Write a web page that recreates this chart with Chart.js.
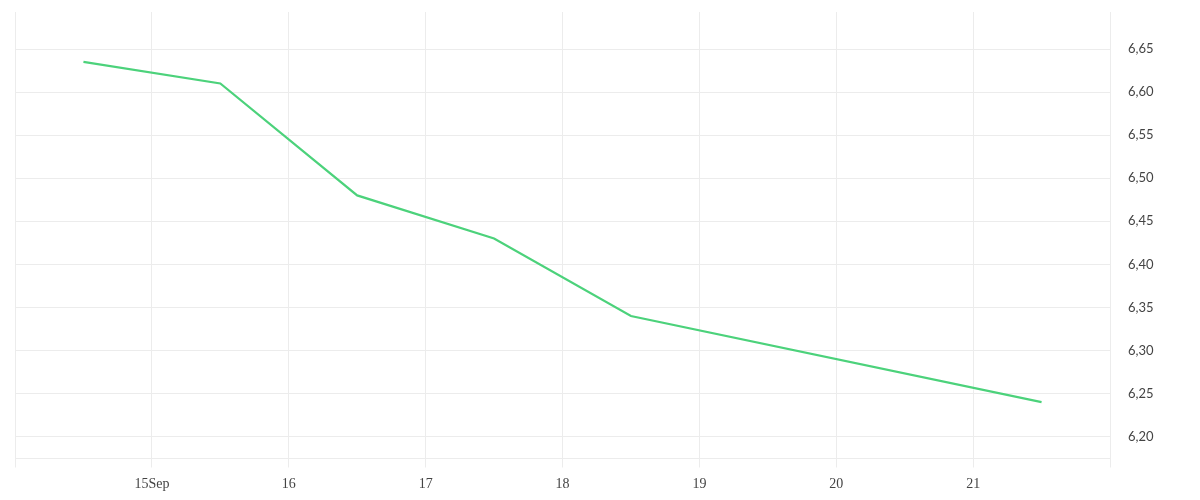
<!DOCTYPE html>
<html><head><meta charset="utf-8">
<script src="https://cdn.jsdelivr.net/npm/chart.js@4/dist/chart.umd.min.js"></script>
<style>html,body{margin:0;padding:0;background:#fff}#wrap{width:1200px;height:500px;position:relative}</style>
</head><body><div id="wrap"><canvas id="c"></canvas></div>
<script>
const days = [14.5, 15.5, 16.5, 17.5, 18.5, 21.5];
const rates = [6.635, 6.61, 6.48, 6.43, 6.34, 6.24];
const xTickValues = [14, 15, 16, 17, 18, 19, 20, 21, 22];
const xTickLabels = ['', '15Sep', '16', '17', '18', '19', '20', '21', ''];
const yTickValues = [6.20, 6.25, 6.30, 6.35, 6.40, 6.45, 6.50, 6.55, 6.60, 6.65];

const points = days.map((d, i) => ({x: d, y: rates[i]}));
const gridColor = '#ececec';

new Chart(document.getElementById('c'), {
  type: 'line',
  data: { datasets: [{
    data: points,
    borderColor: '#4cd27b',
    borderWidth: 2.2,
    pointRadius: 0,
    tension: 0,
    fill: false
  }]},
  options: {
    responsive: true,
    maintainAspectRatio: false,
    devicePixelRatio: 1,
    animation: false,
    layout: { padding: { left: 15, top: 12, right: 0, bottom: 0 } },
    plugins: { legend: { display: false }, tooltip: { enabled: false } },
    scales: {
      x: {
        type: 'linear',
        min: 14, max: 22,
        afterBuildTicks: s => { s.ticks = xTickValues.map(v => ({value: v})); },
        afterFit: s => { s.height = 41.5; s.paddingLeft = 0; s.paddingRight = 0; },
        grid: { color: gridColor, tickLength: 9, drawTicks: true },
        border: { display: true, color: gridColor },
        ticks: {
          autoSkip: false, maxRotation: 0, padding: 8,
          color: '#444',
          font: { family: 'Liberation Serif', size: 14 },
          callback: (v) => { const i = xTickValues.indexOf(v); return i >= 0 ? xTickLabels[i] : ''; }
        }
      },
      y: {
        type: 'linear',
        position: 'right',
        min: 6.1745, max: 6.693,
        afterBuildTicks: s => { s.ticks = yTickValues.map(v => ({value: v})); },
        afterFit: s => { s.width = 90; s.paddingTop = 0; s.paddingBottom = 0; },
        grid: { color: gridColor, drawTicks: false },
        border: { display: false },
        ticks: {
          padding: 18,
          color: '#444',
          font: { family: 'Lato', size: 13 },
          callback: v => v.toFixed(2).replace('.', ',')
        }
      }
    }
  }
});
</script>
</body></html>
